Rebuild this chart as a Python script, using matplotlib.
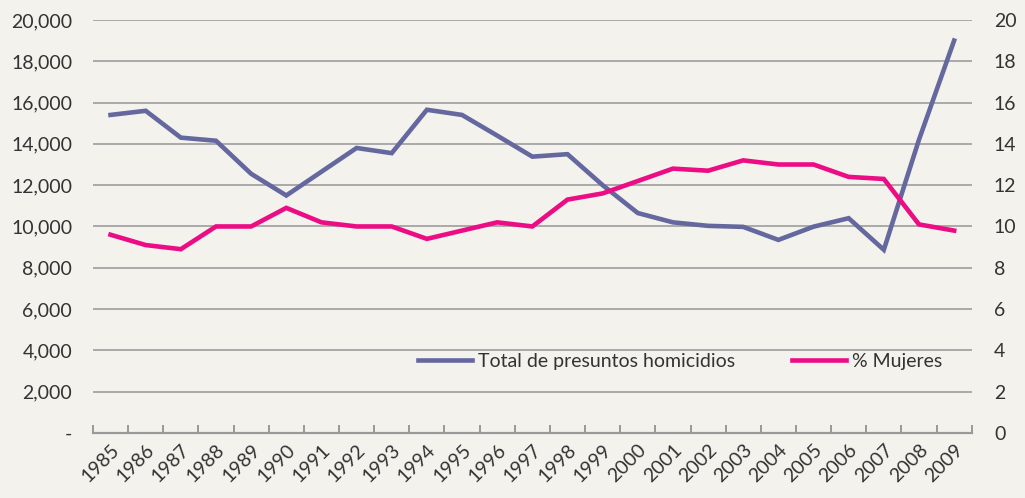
import matplotlib
matplotlib.use("Agg")
import matplotlib.pyplot as plt
from matplotlib.ticker import FuncFormatter, MultipleLocator, FixedLocator

years = list(range(1985, 2010))
homicidios = [15400, 15600, 14300, 14150, 12550, 11500, 12650, 13800, 13550, 15650,
              15400, 14400, 13380, 13500, 12000, 10650, 10200, 10030, 9980, 9350,
              9990, 10400, 8870, 14200, 19000]
pct_mujeres = [9.6, 9.1, 8.9, 10.0, 10.0, 10.9, 10.2, 10.0, 10.0, 9.4,
               9.8, 10.2, 10.0, 11.3, 11.6, 12.2, 12.8, 12.7, 13.2, 13.0,
               13.0, 12.4, 12.3, 10.1, 9.8]

bg = "#f3f2ec"
purple = "#65679f"
pink = "#ec0c84"
grid_c = "#aaaaaa"
txt = "#333333"

plt.rcParams['font.family'] = ['Lato', 'DejaVu Sans']

fig = plt.figure(figsize=(10.25, 4.98), dpi=100, facecolor=bg)
ax = fig.add_axes([0.0907, 0.1305, 0.8573, 0.8295])
ax.set_facecolor(bg)
ax2 = ax.twinx()

x = list(range(len(years)))
l1, = ax.plot(x, homicidios, color=purple, lw=3.3, label="Total de presuntos homicidios",
              solid_joinstyle='miter')
l2, = ax2.plot(x, pct_mujeres, color=pink, lw=3.3, label="% Mujeres", solid_joinstyle='miter')

ax.set_xlim(-0.5, len(years) - 0.5)
ax.set_ylim(0, 20000)
ax2.set_ylim(0, 20)
ax.yaxis.set_major_locator(MultipleLocator(2000))
ax2.yaxis.set_major_locator(MultipleLocator(2))
ax.yaxis.set_major_formatter(FuncFormatter(lambda v, p: "-" if v == 0 else f"{int(v):,}"))
ax2.yaxis.set_major_formatter(FuncFormatter(lambda v, p: f"{int(v)}"))

ax.grid(axis='y', color=grid_c, lw=1.4)
ax.set_axisbelow(True)
for a in (ax, ax2):
    for s in ('top', 'left', 'right', 'bottom'):
        a.spines[s].set_visible(False)
ax.spines['bottom'].set_visible(True)
ax.spines['bottom'].set_color("#999999")
ax.spines['bottom'].set_linewidth(1.6)

ax.set_xticks(x)
ax.set_xticklabels([str(y) for y in years], rotation=45, ha='right', rotation_mode='anchor',
                   fontsize=14, color=txt)
ax.tick_params(axis='x', which='major', length=0, pad=6)
ax.xaxis.set_minor_locator(FixedLocator([i - 0.5 for i in range(len(years) + 1)]))
ax.tick_params(axis='x', which='minor', direction='in', length=6, color="#999999", width=1.4)
ax.tick_params(axis='y', length=0, labelsize=14, labelcolor=txt, pad=15)
ax2.tick_params(axis='y', length=0, labelsize=14, labelcolor=txt, pad=16)

ax2.legend([l1, l2], [l1.get_label(), l2.get_label()], ncol=2, frameon=False,
           loc='center', bbox_to_anchor=(0.668, 0.174), fontsize=14, handlelength=2.8,
           handletextpad=0.3, columnspacing=2.9, labelcolor=txt)

fig.savefig("out.png", dpi=100, facecolor=bg)
